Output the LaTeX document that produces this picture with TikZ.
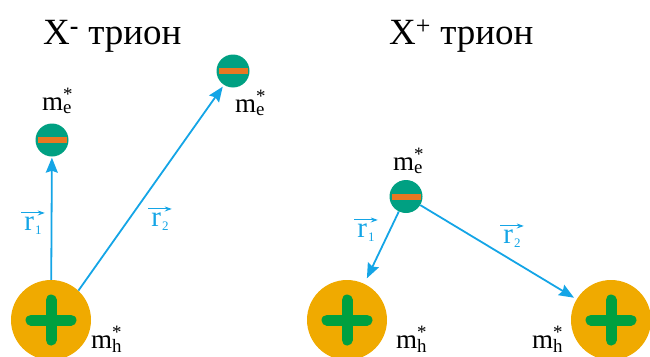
\documentclass[tikz,border=0pt]{standalone}
\usepackage{fontspec}
\setmainfont{Liberation Serif}
\usetikzlibrary{arrows.meta,calc}
\definecolor{holeC}{RGB}{240,170,0}
\definecolor{plusC}{RGB}{0,160,64}
\definecolor{elecC}{RGB}{0,160,130}
\definecolor{barC}{RGB}{232,119,34}
\definecolor{vecC}{RGB}{20,165,230}
\newcommand{\mstar}[1]{m\rlap{\textsuperscript{*}}\textsubscript{#1}}
\newcommand{\rsub}[1]{r\kern1pt\raisebox{-4pt}{\fontsize{13}{13}\selectfont #1}}
\tikzset{
  hole/.style={circle,fill=holeC,minimum size=80pt,inner sep=0pt},
  elec/.style={circle,fill=elecC,minimum size=33pt,inner sep=0pt},
  mlab/.style={anchor=base west,inner sep=0pt,font=\fontsize{27}{27}\selectfont},
  ttl/.style={anchor=base west,inner sep=0pt,font=\fontsize{37}{37}\selectfont},
  vlab/.style={inner sep=0pt,text=vecC,font=\fontsize{29}{29}\selectfont},
  vec/.style={draw=vecC,line width=1.8pt,-{Stealth[length=15pt,width=12pt,inset=2pt]}},
  overarr/.style={draw=vecC,line width=1pt,-{Stealth[length=7pt,width=5pt]}},
}
\newcommand{\plus}[1]{%
  \draw[plusC,line width=11pt,line cap=round] ($(#1)+(-20,0)$) -- ($(#1)+(20,0)$);
  \draw[plusC,line width=11pt,line cap=round] ($(#1)+(0,-20)$) -- ($(#1)+(0,20)$);}
\newcommand{\minus}[1]{%
  \fill[barC] ($(#1)+(-14.5,-3)$) rectangle ($(#1)+(14.5,3)$);}
\begin{document}
\begin{tikzpicture}[x=1pt,y=-1pt]
\useasboundingbox (0,0) rectangle (650,356);
% titles
\node[ttl] (t1) at (43,44) {X\textsuperscript{\textbf{-}} трион};
\node[ttl] (t2) at (389,44) {X\textsuperscript{+} трион};
% left trion
\node[hole] (h1) at (51,320) {};
\node[elec] (e1) at (52,140) {};
\node[elec] (e2) at (233,71) {};
% right trion
\node[elec] (e3) at (406,196.5) {};
\node[hole] (h2) at (347,320) {};
\node[hole] (h3) at (611,320) {};
\plus{h1}\plus{h2}\plus{h3}
\minus{e1}\minus{e2}\minus{e3}
% mass labels
\node[mlab] (m1) at (42,110) {\mstar{e}};
\node[mlab] (m2) at (235,112) {\mstar{e}};
\node[mlab] (m3) at (393,170) {\mstar{e}};
\node[mlab] (m4) at (91,348) {\mstar{h}};
\node[mlab] (m5) at (396,348) {\mstar{h}};
\node[mlab] (m6) at (532,348) {\mstar{h}};
% vectors
\draw[vec,shorten >=1pt] (h1) -- (e1);
\draw[vec,shorten >=2pt] (h1.47) -- (e2.237);
\draw[vec,shorten >=6pt] (e3) -- (h2);
\draw[vec,shorten >=3pt] (e3) -- (h3);
% vector labels
\node[vlab] (r1) at (33,226) {\rsub{1}};
\node[vlab] (r2) at (160,222) {\rsub{2}};
\node[vlab] (r3) at (366,233) {\rsub{1}};
\node[vlab] (r4) at (512,239) {\rsub{2}};
\foreach \n in {r1,r2,r3,r4}{
  \draw[overarr] ($(\n.north west)+(-3,-4)$) -- ($(\n.north east)+(3,-4)$);
}
\end{tikzpicture}
\end{document}
